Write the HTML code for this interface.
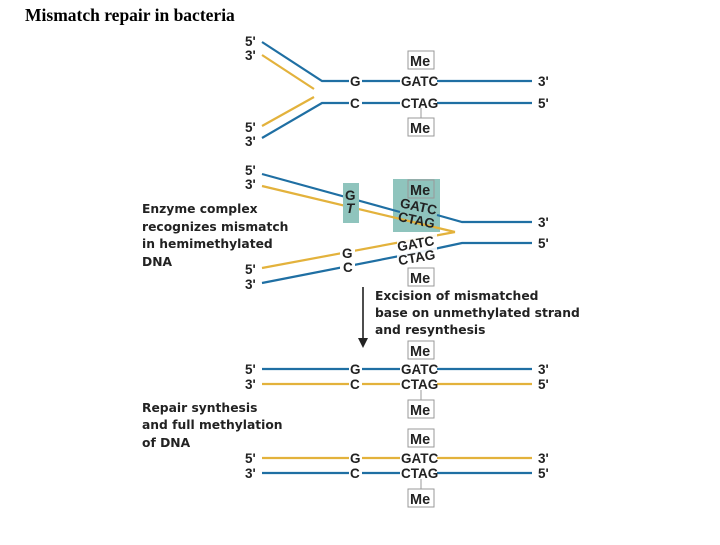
<!DOCTYPE html>
<html><head><meta charset="utf-8"><style>
body{margin:0;background:#fff}
svg text{font-family:"Liberation Sans",sans-serif;font-weight:bold;fill:#222}
svg text.l{font-family:"DejaVu Sans",sans-serif;font-size:12.3px}
</style></head><body>
<svg width="720" height="540" viewBox="0 0 720 540" xmlns="http://www.w3.org/2000/svg">
<text x="25" y="21" style="font-family:'Liberation Serif',serif;font-size:17.5px;fill:#000">Mismatch repair in bacteria</text>
<g font-size="13.5">
<!-- panel 1 -->
<g fill="none" stroke-width="2.2">
<polyline points="262,42 322,81 349,81" stroke="#1f6fa3"/>
<line x1="362" y1="81" x2="400" y2="81" stroke="#1f6fa3"/>
<line x1="437" y1="81" x2="532" y2="81" stroke="#1f6fa3"/>
<line x1="262" y1="55" x2="314" y2="89" stroke="#e3b23c"/>
<line x1="262" y1="126" x2="314" y2="97" stroke="#e3b23c"/>
<polyline points="262,138 322,103 349,103" stroke="#1f6fa3"/>
<line x1="362" y1="103" x2="400" y2="103" stroke="#1f6fa3"/>
<line x1="437" y1="103" x2="532" y2="103" stroke="#1f6fa3"/>
</g>
<text x="245" y="46">5'</text><text x="245" y="60">3'</text>
<text x="245" y="132">5'</text><text x="245" y="146">3'</text>
<text x="350" y="86">G</text><text x="350" y="108">C</text>
<text x="401" y="86">GATC</text><text x="401" y="108">CTAG</text>
<text x="538" y="86">3'</text><text x="538" y="108">5'</text>
<rect x="408" y="51" width="26" height="18" fill="#fff" stroke="#999"/><text x="410" y="66" font-size="14.5">Me</text>
<rect x="408" y="118" width="26" height="18" fill="#fff" stroke="#999"/><text x="410" y="133" font-size="14.5">Me</text>
<line x1="421" y1="108" x2="421" y2="118" stroke="#999"/>

<!-- panel 2 -->
<rect x="343" y="183" width="16" height="40" fill="#8fc4bd"/>
<rect x="393" y="179" width="47" height="53" fill="#8fc4bd"/>
<g fill="none" stroke-width="2.2">
<polyline points="262,174 400,212" stroke="#1f6fa3"/>
<polyline points="437,215 462,222 532,222" stroke="#1f6fa3"/>
<polyline points="262,186 455,232" stroke="#e3b23c"/>
<polyline points="262,268 455,232" stroke="#e3b23c"/>
<polyline points="262,283 420,252 462,243 532,243" stroke="#1f6fa3"/>
</g>
<rect x="343" y="188" width="16" height="32" fill="#8fc4bd"/>
<text x="345" y="200">G</text><text x="346" y="213" font-style="italic">T</text>
<text x="400" y="211" transform="rotate(12 418 206)">GATC</text>
<text x="398" y="225" transform="rotate(12 418 220)">CTAG</text>
<rect x="408" y="180" width="26" height="18" fill="none" stroke="#999"/><text x="410" y="195" font-size="14.5">Me</text>
<rect x="397" y="234" width="40" height="28" fill="#fff" opacity="0.9"/>
<rect x="340" y="246" width="15" height="26" fill="#fff"/>
<text x="342" y="258">G</text><text x="343" y="272">C</text>
<text x="397" y="248" transform="rotate(-10 417 243)">GATC</text>
<text x="398" y="262" transform="rotate(-10 417 257)">CTAG</text>
<text x="538" y="227">3'</text><text x="538" y="248">5'</text>
<text x="245" y="175">5'</text><text x="245" y="189">3'</text>
<text x="245" y="274">5'</text><text x="245" y="289">3'</text>
<rect x="408" y="268" width="26" height="18" fill="#fff" stroke="#999"/><text x="410" y="283" font-size="14.5">Me</text>

<text class="l" x="142" y="213">Enzyme complex</text>
<text class="l" x="142" y="231">recognizes mismatch</text>
<text class="l" x="142" y="248">in hemimethylated</text>
<text class="l" x="142" y="266">DNA</text>

<line x1="363" y1="287" x2="363" y2="340" stroke="#222" stroke-width="1.6"/>
<polygon points="358,338 368,338 363,348" fill="#222"/>
<text class="l" x="375" y="300">Excision of mismatched</text>
<text class="l" x="375" y="317">base on unmethylated strand</text>
<text class="l" x="375" y="334">and resynthesis</text>

<!-- panel 3 -->
<g fill="none" stroke-width="2.2">
<line x1="262" y1="369" x2="349" y2="369" stroke="#1f6fa3"/>
<line x1="362" y1="369" x2="400" y2="369" stroke="#1f6fa3"/>
<line x1="437" y1="369" x2="532" y2="369" stroke="#1f6fa3"/>
<line x1="262" y1="384" x2="349" y2="384" stroke="#e3b23c"/>
<line x1="362" y1="384" x2="400" y2="384" stroke="#e3b23c"/>
<line x1="437" y1="384" x2="532" y2="384" stroke="#e3b23c"/>
<line x1="262" y1="458" x2="349" y2="458" stroke="#e3b23c"/>
<line x1="362" y1="458" x2="400" y2="458" stroke="#e3b23c"/>
<line x1="437" y1="458" x2="532" y2="458" stroke="#e3b23c"/>
<line x1="262" y1="473" x2="349" y2="473" stroke="#1f6fa3"/>
<line x1="362" y1="473" x2="400" y2="473" stroke="#1f6fa3"/>
<line x1="437" y1="473" x2="532" y2="473" stroke="#1f6fa3"/>
</g>
<text x="245" y="374">5'</text><text x="245" y="389">3'</text>
<text x="350" y="374">G</text><text x="350" y="389">C</text>
<text x="401" y="374">GATC</text><text x="401" y="389">CTAG</text>
<text x="538" y="374">3'</text><text x="538" y="389">5'</text>
<rect x="408" y="341" width="26" height="18" fill="#fff" stroke="#999"/><text x="410" y="356" font-size="14.5">Me</text>
<rect x="408" y="400" width="26" height="18" fill="#fff" stroke="#999"/><text x="410" y="415" font-size="14.5">Me</text>
<line x1="421" y1="390" x2="421" y2="400" stroke="#999"/>

<text class="l" x="142" y="412">Repair synthesis</text>
<text class="l" x="142" y="429">and full methylation</text>
<text class="l" x="142" y="447">of DNA</text>

<text x="245" y="463">5'</text><text x="245" y="478">3'</text>
<text x="350" y="463">G</text><text x="350" y="478">C</text>
<text x="401" y="463">GATC</text><text x="401" y="478">CTAG</text>
<text x="538" y="463">3'</text><text x="538" y="478">5'</text>
<rect x="408" y="429" width="26" height="18" fill="#fff" stroke="#999"/><text x="410" y="444" font-size="14.5">Me</text>
<rect x="408" y="489" width="26" height="18" fill="#fff" stroke="#999"/><text x="410" y="504" font-size="14.5">Me</text>
<line x1="421" y1="479" x2="421" y2="489" stroke="#999"/>
</g>
</svg>
</body></html>
